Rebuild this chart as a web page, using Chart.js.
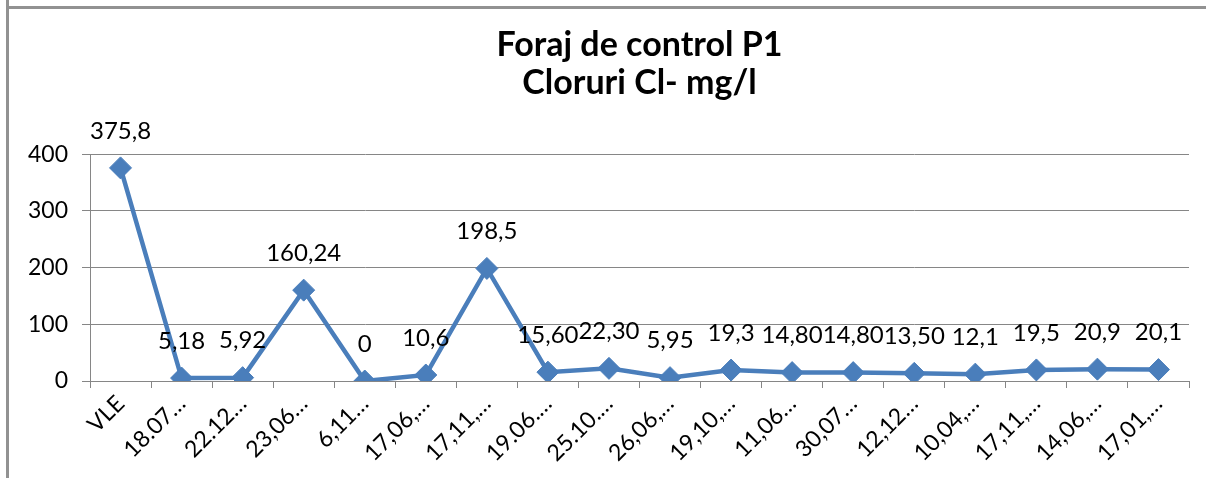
<!DOCTYPE html>
<html>
<head>
<meta charset="utf-8">
<script src="https://cdn.jsdelivr.net/npm/chart.js@4/dist/chart.umd.min.js"></script>
<style>
  html, body { margin: 0; padding: 0; background: #fff; }
  #wrap { position: relative; width: 1206px; height: 478px; overflow: hidden; }
  #frame_top { position: absolute; left: 6px; top: 6px; width: 1200px; height: 3px; background: #929292; }
  #frame_left { position: absolute; left: 6px; top: 0; width: 3px; height: 478px; background: #929292; }
  canvas { position: absolute; left: 0; top: 0; }
</style>
</head>
<body>
<div id="wrap">
  <canvas id="chart_p1" width="1206" height="478"></canvas>
  <div id="frame_top"></div>
  <div id="frame_left"></div>
</div>
<script>
// dates (as truncated on the axis) and chloride values, mg/l
const categories = ['VLE', '18.07\u2026', '22.12\u2026', '23,06\u2026', '6,11\u2026', '17,06,\u2026', '17,11,\u2026',
  '19.06.\u2026', '25.10.\u2026', '26,06,\u2026', '19,10,\u2026', '11,06\u2026', '30,07\u2026', '12,12\u2026',
  '10,04,\u2026', '17,11,\u2026', '14,06,\u2026', '17,01,\u2026'];
const cloruri = [375.8, 5.18, 5.92, 160.24, 0, 10.6, 198.5, 15.60, 22.30, 5.95, 19.3, 14.80, 14.80, 13.50, 12.1, 19.5, 20.9, 20.1];
const value_labels = ['375,8', '5,18', '5,92', '160,24', '0', '10,6', '198,5', '15,60', '22,30', '5,95', '19,3',
  '14,80', '14,80', '13,50', '12,1', '19,5', '20,9', '20,1'];
const y_ticks = [0, 100, 200, 300, 400];
const title_lines = ['Foraj de control P1', 'Cloruri Cl- mg/l'];

const font_family = 'Lato, "Open Sans", sans-serif';
const blue = '#4a7ebb';
const grey = '#868686';

// draws the value text above each point
const valueLabels = {
  id: 'valueLabels',
  afterDatasetsDraw(chart) {
    const ctx = chart.ctx;
    const meta = chart.getDatasetMeta(0);
    ctx.save();
    ctx.font = '24px ' + font_family;
    ctx.fillStyle = '#000';
    ctx.textAlign = 'center';
    ctx.textBaseline = 'middle';
    meta.data.forEach(function(pt, i){
      ctx.fillText(value_labels[i], pt.x, pt.y - 37);
    });
    ctx.restore();
  }
};

new Chart(document.getElementById('chart_p1'), {
  type: 'line',
  data: {
    labels: categories,
    datasets: [{
      data: cloruri,
      borderColor: blue,
      backgroundColor: blue,
      borderWidth: 4.5,
      pointStyle: 'rectRot',
      pointRadius: 11,
      pointBorderWidth: 1,
      pointBorderColor: blue,
      pointBackgroundColor: blue,
      tension: 0
    }]
  },
  options: {
    responsive: false,
    animation: false,
    layout: { padding: { left: 10, right: 17, top: 8, bottom: 0 } },
    plugins: {
      legend: { display: false },
      tooltip: { enabled: false },
      title: {
        display: true,
        fullSize: false,
        text: title_lines,
        color: '#000',
        font: { family: font_family, size: 34, weight: 'bold', lineHeight: 1.12 },
        padding: { top: 18, bottom: 52 }
      }
    },
    scales: {
      x: {
        offset: true,
        grid: { offset: true, drawOnChartArea: false, drawTicks: true, tickLength: 7, color: grey },
        border: { color: grey, width: 1 },
        ticks: {
          color: '#000',
          font: { family: font_family, size: 23 },
          minRotation: 45,
          maxRotation: 45,
          autoSkip: false,
          padding: 2
        },
        afterFit(scale) { scale.height = 478 - 381; }
      },
      y: {
        min: 0,
        max: 400,
        afterBuildTicks(scale) { scale.ticks = y_ticks.map(v => ({ value: v })); },
        grid: { color: grey, drawTicks: true, tickLength: 8 },
        border: { color: grey, width: 1 },
        ticks: {
          color: '#000',
          font: { family: font_family, size: 23 },
          padding: 14
        },
        afterFit(scale) { scale.width = 80; }
      }
    }
  },
  plugins: [valueLabels]
});
</script>
</body>
</html>
